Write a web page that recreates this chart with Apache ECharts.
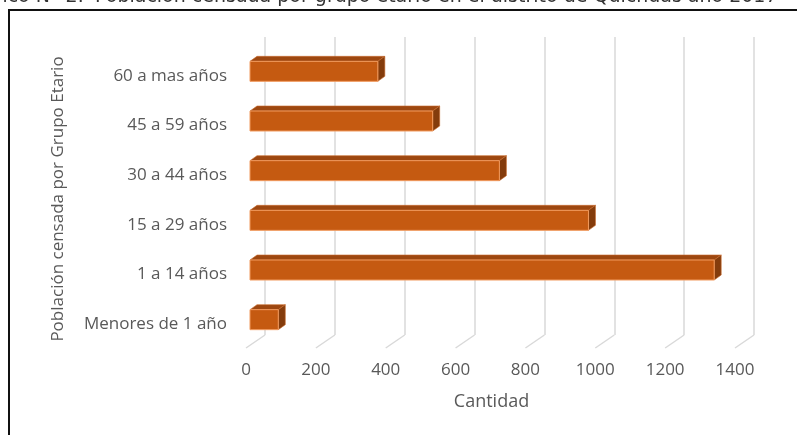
<!DOCTYPE html>
<html>
<head>
<meta charset="utf-8">
<script src="https://cdn.jsdelivr.net/npm/echarts@6/dist/echarts.min.js"></script>
<style>
    html, body { margin: 0; padding: 0; background: #fff; }
    #chart { width: 797px; height: 435px; }
</style>
</head>
<body>
<div id="chart"></div>
<script>
const categories = ['Menores de 1 año', '1 a 14 años', '15 a 29 años', '30 a 44 años', '45 a 59 años', '60 a mas años'];
const values = [81, 1329, 969, 714, 523, 366];
const xTicks = [0, 200, 400, 600, 800, 1000, 1200, 1400];

const FONT = '"Open Sans", sans-serif';
const GRID_COLOR = '#d9d9d9';

// bar drawn as a box: front face, top face, right side
function renderBar(params, api) {
    const cat = api.value(0);
    const v = api.value(1);
    const start = api.coord([0, cat]);
    const end = api.coord([v, cat]);
    const fx = -15, fy = 9.5, h = 20, dx = 7, dy = -5;
    const x0 = start[0] + fx;
    const x1 = end[0] + fx;
    const yt = start[1] + fy - h / 2;
    const yb = yt + h;
    return {
        type: 'group',
        children: [
            { type: 'polygon', shape: { points: [[x0, yt], [x1, yt], [x1 + dx, yt + dy], [x0 + dx, yt + dy]] },
              style: { fill: '#9d4710', stroke: '#c86a2c', lineWidth: 0.6 } },
            { type: 'polygon', shape: { points: [[x1, yt], [x1 + dx, yt + dy], [x1 + dx, yb + dy], [x1, yb]] },
              style: { fill: '#843c0c', stroke: '#c86a2c', lineWidth: 0.6 } },
            { type: 'rect', shape: { x: x0, y: yt, width: x1 - x0, height: h },
              style: { fill: '#c55a11', stroke: '#f19a5e', lineWidth: 1 } }
        ]
    };
}

// floor lines running forward from the back wall
function renderFloor(params, api) {
    const p = api.coord([api.value(0), 0]);
    const yB = params.coordSys.y + params.coordSys.height;
    return {
        type: 'line',
        shape: { x1: p[0], y1: yB, x2: p[0] - 19, y2: yB + 13 },
        style: { stroke: GRID_COLOR, lineWidth: 1.5 }
    };
}

const chart = echarts.init(document.getElementById('chart'));

const option = {
    animation: false,
    grid: { left: 265, top: 37, width: 489, height: 298 },
    graphic: [
        { type: 'rect', shape: { x: 9, y: 10, width: 820, height: 460 },
          style: { fill: 'none', stroke: '#111', lineWidth: 2 }, z: 0 },
        { type: 'text', x: 84, y: -3,
          style: { text: 'Gráfico N° 2:', align: 'right', verticalAlign: 'middle',
                   font: '19px "DejaVu Sans", sans-serif', fill: '#333' } },
        { type: 'text', x: 95, y: -3,
          style: { text: 'Población censada por grupo etario en el distrito de Quichuas año 2017', align: 'left', verticalAlign: 'middle',
                   font: '19px "DejaVu Sans", sans-serif', fill: '#333' } }
    ],
    xAxis: {
        type: 'value',
        min: 0,
        max: 1400,
        interval: 200,
        name: 'Cantidad',
        nameLocation: 'middle',
        nameGap: 58,
        nameTextStyle: { color: '#595959', fontSize: 18, fontFamily: FONT, padding: [0, 36, 0, 0] },
        axisLine: { show: false },
        axisTick: { show: false },
        axisLabel: {
            color: '#595959', fontSize: 17, fontFamily: FONT, margin: 27, padding: [0, 38, 0, 0],
            formatter: v => String(v)
        },
        splitLine: { show: true, lineStyle: { color: GRID_COLOR, width: 1.5 } }
    },
    yAxis: {
        type: 'category',
        data: categories,
        name: 'Población censada por Grupo Etario',
        nameLocation: 'middle',
        nameGap: 198,
        nameTextStyle: { color: '#595959', fontSize: 17, fontFamily: FONT, padding: [0, 26, 0, 0] },
        axisLine: { show: false },
        axisTick: { show: false },
        axisLabel: {
            color: '#595959', fontSize: 17, fontFamily: FONT, margin: 38,
            verticalAlign: 'top', lineHeight: 28
        }
    },
    series: [
        {
            type: 'custom',
            renderItem: renderFloor,
            data: xTicks.map(t => [t]),
            encode: { x: 0 },
            clip: false,
            silent: true,
            z: 1
        },
        {
            type: 'custom',
            renderItem: renderBar,
            data: values.map((v, i) => [i, v]),
            encode: { y: 0, x: 1 },
            clip: false,
            z: 2
        }
    ]
};

chart.setOption(option);
</script>
</body>
</html>
